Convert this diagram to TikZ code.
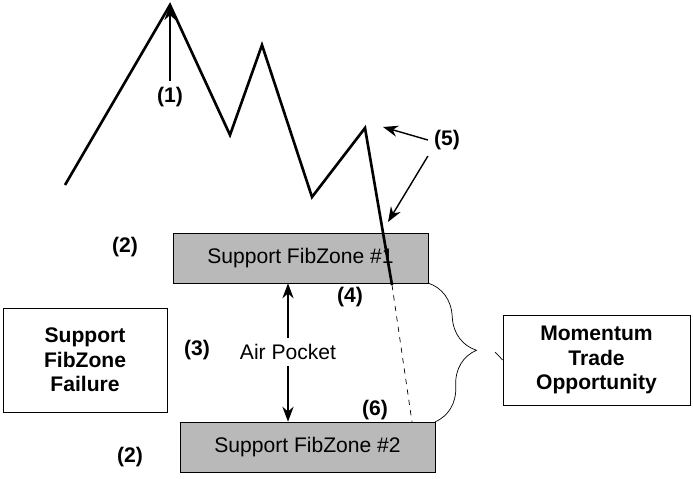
\documentclass[tikz,border=0pt]{standalone}
\usepackage{fontspec}
\setmainfont{Liberation Sans}
\usetikzlibrary{arrows.meta, positioning, decorations.pathreplacing}
\tikzset{
    zone/.style={rectangle, draw=black, fill=gray!55, minimum width=5.1cm, minimum height=1cm, font=\large},
    infobox/.style={rectangle, draw=black, fill=white, align=center, font=\large\bfseries},
    tag/.style={font=\large\bfseries},
    arrow/.style={thick, -{Stealth[length=3mm]}}
}
\begin{document}
\begin{tikzpicture}[x=0.02cm, y=-0.02cm]
    \useasboundingbox (0,0) rectangle (693,478);
    % Price path
    \coordinate (p0) at (65,185);
    \coordinate (peak) at (170,5);
    \coordinate (p2) at (230,135);
    \coordinate (p3) at (262,45);
    \coordinate (p4) at (312,197);
    \coordinate (top) at (365,128);
    \coordinate (brk) at (392,285);
    \coordinate (low) at (412,422);
    % Zones
    \node (zoneA) [zone] at (300.5,258) {Support FibZone \#1};
    \node (zoneB) [zone] at (307.5,447) {Support FibZone \#2};
    \draw [line width=1.5pt] (p0) -- (peak) -- (p2) -- (p3) -- (p4) -- (top) -- (brk);
    \draw [dashed] (brk) -- (low);
    % Labels
    \node (one) [tag] at (170,97) {(1)};
    \draw [arrow] (one.north) -- (peak);
    \node (five) [tag] at (447,140) {(5)};
    \draw [arrow] (five.west) -- (383,127);
    \draw [arrow] (five.south west) -- (388,222);
    \node (twoA) [tag] at (125,247) {(2)};
    \node (twoB) [tag] at (130,457) {(2)};
    \node (three) [tag] at (197,350) {(3)};
    \node (four) [tag] at (350,297) {(4)};
    \node (six) [tag] at (375,410) {(6)};
    \node (air) [font=\large] at (288,352) {Air Pocket};
    \draw [arrow] (air.north) -- (air.north |- zoneA.south);
    \draw [arrow] (air.south) -- (air.south |- zoneB.north);
    % Side boxes
    \node (fail) [infobox, minimum width=3.28cm, minimum height=2.08cm] at (85,360) {Support\\FibZone\\Failure};
    \node (mom) [infobox, minimum width=3.74cm, minimum height=1.8cm] at (596.5,360) {Momentum\\Trade\\Opportunity};
    \draw [decorate, decoration={brace, amplitude=0.9cm, aspect=0.5}] (428,283) -- (435,422);
    \draw (mom.west) -- (495,352);
\end{tikzpicture}
\end{document}
